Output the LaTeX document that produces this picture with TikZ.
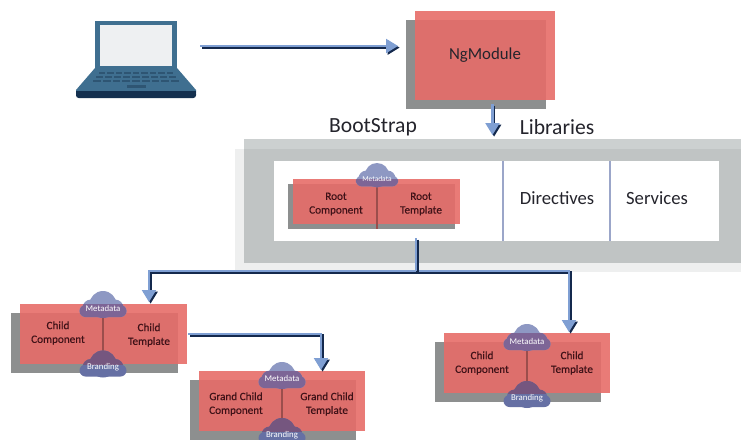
\documentclass[tikz,border=0pt]{standalone}
\usepackage{fontspec}
\setmainfont{Carlito}
\newfontfamily\cardfont[FakeBold=0.35]{Carlito}
\usetikzlibrary{arrows.meta,calc}
\definecolor{redlt}{HTML}{E97B77}
\definecolor{redov}{HTML}{DD6F6C}
\definecolor{shadowg}{HTML}{8D8F8F}
\definecolor{panelA}{HTML}{CCD0D0}
\definecolor{panelB}{HTML}{EEEFEF}
\definecolor{panelC}{HTML}{C0C4C4}
\definecolor{divblue}{HTML}{9BA6C9}
\definecolor{navy}{HTML}{14294D}
\definecolor{lightb}{HTML}{7F9FD3}
\definecolor{txtd}{HTML}{24242C}
\definecolor{txtr}{HTML}{3F1218}
\definecolor{cloudA}{HTML}{8E98C3}
\definecolor{cloudB}{HTML}{7D6596}
\definecolor{cloudC}{HTML}{75567F}
\definecolor{cloudD}{HTML}{6670A4}
\definecolor{lapA}{HTML}{3F6F90}
\definecolor{lapB}{HTML}{2E5573}
\definecolor{lapC}{HTML}{14304F}
\definecolor{lapS}{HTML}{EEF0F2}
\tikzset{
  pxbox/.style={inner sep=0pt,outer sep=0pt,rectangle},
  redbox/.style={pxbox,fill=redlt},
  shadowbox/.style={pxbox,fill=shadowg},
  overlapbox/.style={pxbox,fill=redov},
  headtext/.style={text=txtd,font=\fontsize{16.2}{18}\selectfont,inner sep=0pt},
  labeltext/.style={text=txtd,font=\fontsize{14}{16}\selectfont,inner sep=0pt},
  cardtext/.style={text=txtr,align=center,font=\cardfont\fontsize{8.4}{10.3}\selectfont,inner sep=0pt},
  cloudtext/.style={text=white,font=\fontsize{6.6}{8}\selectfont,inner sep=0pt},
  divline/.style={draw=divblue,line width=1.5pt},
  carddiv/.style={draw=redov!70!black,line width=.8pt},
  connlight/.style={draw=lightb,line width=1.6pt,-{Triangle[length=9pt,width=10.5pt,fill=lightb]}},
  conndark/.style={draw=navy,line width=1.7pt,transform canvas={xshift=1.2pt,yshift=-1.2pt},-{Triangle[length=9pt,width=10.5pt,fill=navy]}},
  connplainl/.style={draw=lightb,line width=1.6pt},
  connplaind/.style={draw=navy,line width=1.7pt,transform canvas={xshift=1.2pt,yshift=-1.2pt}}
}
\newcommand{\pxrect}[6]{%
  \pgfmathsetmacro{\pw}{(#5)-(#3)}%
  \pgfmathsetmacro{\ph}{(#6)-(#4)}%
  \pgfmathsetmacro{\cxx}{((#5)+(#3))/2}%
  \pgfmathsetmacro{\cyy}{((#6)+(#4))/2}%
  \node[#1,minimum width=\pw*0.75pt,minimum height=\ph*0.75pt] (#2) at (\cxx,\cyy) {};}
% name x1 y1 x2 y2 dx dy
\newcommand{\card}[7]{%
  \pxrect{shadowbox}{#1s}{#2-#6}{#3+#7}{#4-#6}{#5+#7}%
  \pxrect{redbox}{#1}{#2}{#3}{#4}{#5}%
  \pxrect{overlapbox}{#1o}{#2}{#3+#7}{#4-#6}{#5}}
\newcommand{\cloudbody}[1]{%
  \fill[#1] (0,13.5) circle [radius=13.5];
  \fill[#1] (-12,17) circle [radius=8.5];
  \fill[#1] (12,17) circle [radius=8.5];
  \fill[#1,rounded corners=4.5pt] (-23.5,14) rectangle (23.5,26);}
% card cx top scale outer inner
\newcommand{\cloud}[6]{%
  \begin{scope}[shift={(#2,#3)},scale=#4]\cloudbody{#5}\end{scope}
  \begin{scope}
    \clip (#1.north west) rectangle (#1.south east);
    \begin{scope}[shift={(#2,#3)},scale=#4]\cloudbody{#6}\end{scope}
  \end{scope}}
\newcommand{\conn}[1]{%
  \draw[conndark] #1;
  \draw[connlight] #1;}
\begin{document}
\begin{tikzpicture}[x=0.75pt,y=-0.75pt]
\clip (0,0) rectangle (741,439);
\fill[white] (0,0) rectangle (741,439);

% laptop
\node[pxbox,minimum width=90pt,minimum height=57.75pt] (laptop) at (136,59.5) {};
\fill[lapA] (95,21) rectangle (177,70);
\fill[lapS] (100,25) rectangle (172,66);
\fill[lapA] (95,68) -- (177,68) -- (196,90) -- (196,93) -- (76,93) -- (76,90) -- cycle;
\fill[lapC,rounded corners=2pt] (76,91) rectangle (196,98);
\fill[lapC] (76,91) rectangle (196,93);
\foreach \yy/\xa/\xb in {72/98/174,76/95/177,80/92/180}{
  \foreach \k in {0,...,8}{
    \pgfmathsetmacro{\xl}{\xa+(\xb-\xa)*\k/9+1}
    \pgfmathsetmacro{\xr}{\xa+(\xb-\xa)*(\k+1)/9-1}
    \fill[lapB] (\xl,\yy) rectangle (\xr,\yy+2);
  }
}
\fill[lapB] (127,85) rectangle (146,88);

% NgModule
\card{ng}{415}{11}{555}{100}{9}{9}
\node[text=txtd,inner sep=0pt,font=\fontsize{12.6}{14}\selectfont] (ngt) at (485,55) {NgModule};

% panel
\pxrect{pxbox,fill=panelB}{panelb}{235}{149}{741}{272}
\pxrect{pxbox,fill=panelC}{panelc}{244}{139}{741}{263}
\pxrect{pxbox,fill=panelA}{panela}{244}{139}{741}{149}
\pxrect{pxbox,fill=white}{whitebox}{274}{161}{719}{241}
\draw[divline] (503,161) -- (503,241);
\draw[divline] (610,161) -- (610,241);

\node[headtext] (boot) at (373,127) {BootStrap};
\node[headtext] (libs) at (557,127) {Libraries};
\node[labeltext] (dir) at (557,198) {Directives};
\node[labeltext] (srv) at (657,198) {Services};

% root
\card{root}{293}{179}{460}{224}{5}{5}
\draw[carddiv] (377,180) -- (377,229);
\cloud{root}{377}{163}{0.9}{cloudA}{cloudB}
\node[cloudtext,font=\fontsize{5.6}{7}\selectfont] (rootm) at (377,179) {Metadata};
\node[cardtext] (rootc) at (336,204) {Root\\Component};
\node[cardtext] (roott) at (421,204) {Root\\Template};

% child one
\card{chA}{20}{304}{187}{364}{9}{9}
\draw[carddiv] (103,310) -- (103,355);
\cloud{chA}{103}{291}{1}{cloudA}{cloudB}
\cloud{chA}{103}{350.5}{1}{cloudD}{cloudC}
\node[cloudtext] (chAm) at (103,308) {Metadata};
\node[cloudtext] (chAb) at (103,367) {Branding};
\node[cardtext] (chAc) at (58,333) {Child\\Component};
\node[cardtext] (chAt) at (149,335) {Child\\Template};

% grand child
\card{gc}{199}{371}{365}{431}{9}{9}
\draw[carddiv] (282,380) -- (282,422);
\cloud{gc}{282}{362}{1}{cloudA}{cloudB}
\cloud{gc}{282}{418}{1}{cloudD}{cloudC}
\node[cloudtext] (gcm) at (282,378) {Metadata};
\node[cloudtext] (gcb) at (282,435) {Branding};
\node[cardtext] (gcc) at (236,404) {Grand Child\\Component};
\node[cardtext] (gct) at (327,404) {Grand Child\\Template};

% child two
\card{chB}{444}{333}{610}{393}{9}{9}
\draw[carddiv] (527,340) -- (527,385);
\cloud{chB}{527}{324}{1}{cloudA}{cloudB}
\cloud{chB}{527}{381}{1}{cloudD}{cloudC}
\node[cloudtext] (chBm) at (527,341) {Metadata};
\node[cloudtext] (chBb) at (527,398) {Branding};
\node[cardtext] (chBc) at (482,363) {Child\\Component};
\node[cardtext] (chBt) at (572,363) {Child\\Template};

% connectors
\coordinate (lapout) at (200,46);
\coordinate (ngin) at (398,46);
\coordinate (ngout) at (492.5,104);
\coordinate (panelin) at (492.5,135);
\coordinate (rootout) at (416,238);
\coordinate (bus) at (416,271);
\coordinate (chAin) at (149,302);
\coordinate (chBin) at (569,332);
\coordinate (chAout) at (188,334);
\coordinate (gcin) at (321,370);

\conn{(lapout) -- (ngin)}
\conn{(ngout) -- (panelin)}
\conn{(chAout) -- (gcin |- chAout) -- (gcin)}
\conn{(bus) -- (chAin |- bus) -- (chAin)}
\conn{(bus) -- (chBin |- bus) -- (chBin)}
\draw[connplaind] (rootout) -- (bus);
\draw[connplainl] (rootout) -- (bus);
\end{tikzpicture}
\end{document}
